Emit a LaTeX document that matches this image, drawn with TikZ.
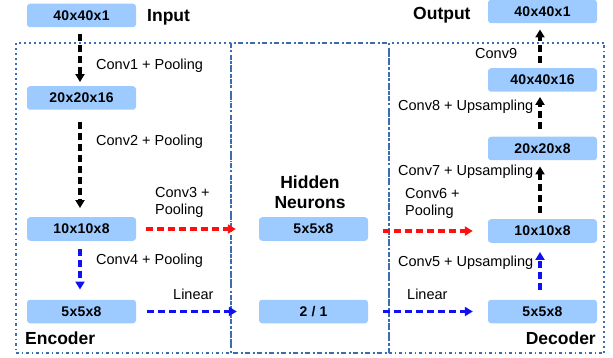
\documentclass[tikz,border=0pt]{standalone}
\usepackage{fontspec}
\setmainfont{Liberation Sans}
\usetikzlibrary{arrows.meta}
\definecolor{boxblue}{HTML}{9DCBFF}
\definecolor{framec}{HTML}{3B6DB0}
\definecolor{arrred}{HTML}{FF1010}
\definecolor{arrblue}{HTML}{1010F0}
\begin{document}
\begin{tikzpicture}[x=1pt,y=-1pt,
  blk/.style={fill=boxblue, rounded corners=3pt, minimum width=109pt, minimum height=23.5pt, inner sep=0pt,
    font=\fontsize{14}{16}\selectfont\bfseries\addfontfeatures{LetterSpace=2}},
  lbl/.style={anchor=west, inner sep=0pt, font=\fontsize{14.5}{17}\selectfont, align=left},
  head/.style={inner sep=0pt, font=\fontsize{17.5}{20}\selectfont\bfseries, align=center},
  frame/.style={framec, line width=1.8pt, dash pattern=on 2.5pt off 3pt on 1.5pt off 3pt},
  frameh/.style={framec, line width=1.8pt, dash pattern=on 5pt off 2.5pt on 2pt off 2.5pt},
  conn/.style={line width=3.6pt, dash pattern=on 7pt off 4pt, -{Triangle[length=8pt,width=9pt]}},
  blackc/.style={conn, black},
  redc/.style={conn, arrred},
  bluec/.style={conn, arrblue}]
\useasboundingbox (0,0) rectangle (613,358);
% frames
\draw[frameh] (231,43) rectangle (389,353);
\draw[frame] (16,43) rectangle (231,353);
\draw[frame] (389,43) rectangle (604,353);
% encoder boxes
\node[blk] (in) at (81.5,15.5) {40x40x1};
\node[blk] (e1) at (81.5,98) {20x20x16};
\node[blk] (e2) at (81.5,229) {10x10x8};
\node[blk] (e3) at (81.5,311.5) {5x5x8};
% hidden
\node[blk] (h1) at (313.5,229) {5x5x8};
\node[blk] (h2) at (313.5,311.5) {2 / 1};
% decoder
\node[blk] (out) at (542.5,11.5) {40x40x1};
\node[blk] (d4) at (542.5,80) {40x40x16};
\node[blk] (d3) at (542.5,148.5) {20x20x8};
\node[blk] (d2) at (542.5,231) {10x10x8};
\node[blk] (d1) at (542.5,311.5) {5x5x8};
% headings
\node[head, anchor=west] (tin) at (147,17) {Input};
\node[head, anchor=west] (tout) at (413,15) {Output};
\node[head] (thid) at (310,192) {Hidden\\Neurons};
\node[head, anchor=west] (tenc) at (25,338) {Encoder};
\node[head, anchor=east] (tdec) at (596,338) {Decoder};
% labels
\node[lbl] (l1) at (96,66) {Conv1 + Pooling};
\node[lbl] (l2) at (96,142) {Conv2 + Pooling};
\node[lbl] (l3) at (155,202.5) {Conv3 +\\Pooling};
\node[lbl] (l4) at (96,261) {Conv4 + Pooling};
\node[lbl] (l5) at (173,294) {Linear};
\node[lbl] (l6) at (405,203.5) {Conv6 +\\Pooling};
\node[lbl] (l7) at (398,263) {Conv5 + Upsampling};
\node[lbl] (l8) at (407,294) {Linear};
\node[lbl] (l9) at (398,172) {Conv7 + Upsampling};
\node[lbl] (l10) at (398,107) {Conv8 + Upsampling};
\node[lbl] (l11) at (475,54) {Conv9};
% connectors
\draw[blackc, shorten <=7pt, shorten >=4pt] (in.south -| 80,0) -- (e1.north -| 80,0);
\draw[blackc, shorten <=12pt, shorten >=9pt] (e1.south -| 80,0) -- (e2.north -| 80,0);
\draw[bluec, shorten <=8pt, shorten >=10pt] (e2.south -| 80,0) -- (e3.north -| 80,0);
\draw[redc, shorten <=10pt, shorten >=23pt] (e2.east) -- (h1.west);
\draw[bluec, shorten <=11pt, shorten >=22pt] (e3.east) -- (h2.west);
\draw[redc, shorten <=15pt, shorten >=15pt] (h1.east |- 0,231) -- (d2.west);
\draw[bluec, shorten <=15pt, shorten >=15pt] (h2.east) -- (d1.west);
\draw[bluec, shorten <=10pt, shorten >=9pt] (d1.north -| 540,0) -- (d2.south -| 540,0);
\draw[blackc, shorten <=6pt, shorten >=6pt] (d2.north -| 540,0) -- (d3.south -| 540,0);
\draw[blackc, shorten <=8pt, shorten >=5pt] (d3.north -| 540,0) -- (d4.south -| 540,0);
\draw[blackc, shorten <=5pt, shorten >=6pt] (d4.north -| 540,0) -- (out.south -| 540,0);
\end{tikzpicture}
\end{document}
